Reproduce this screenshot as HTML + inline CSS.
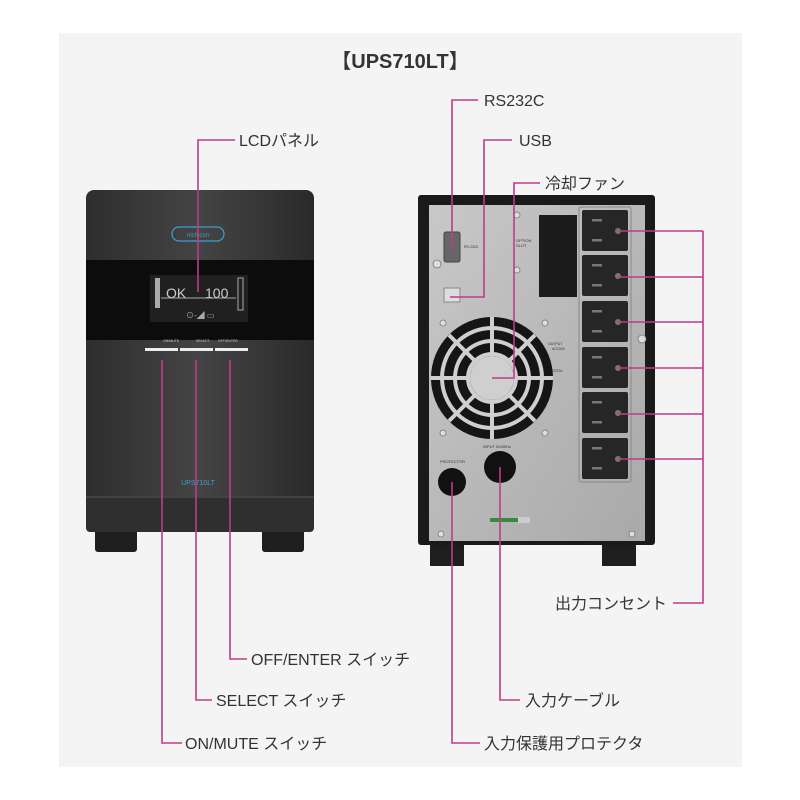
<!DOCTYPE html>
<html><head><meta charset="utf-8"><style>
html,body{margin:0;padding:0;background:#fff;}
svg{display:block;}
text{font-family:"Liberation Sans","Noto Sans CJK JP",sans-serif;fill:#333;}
</style></head><body>
<svg width="800" height="800" viewBox="0 0 800 800" xmlns="http://www.w3.org/2000/svg">
<defs>
<linearGradient id="body" x1="0" x2="1" y1="0" y2="0">
<stop offset="0" stop-color="#2e2e2e"/><stop offset="0.5" stop-color="#444"/><stop offset="1" stop-color="#2a2a2a"/>
</linearGradient>
<linearGradient id="panel" x1="0" x2="1" y1="0" y2="1">
<stop offset="0" stop-color="#c8c8c8"/><stop offset="1" stop-color="#a9a9a9"/>
</linearGradient>
<g id="outlet">
<rect x="0" y="0" width="46" height="41" rx="2" fill="#262626"/>
<rect x="10" y="9" width="10" height="2.5" fill="#777"/>
<rect x="10" y="29" width="10" height="2.5" fill="#777"/>
<circle cx="36" cy="21" r="3" fill="#777"/>
</g>
</defs>
<rect x="59" y="33" width="683" height="734" fill="#f4f4f4"/>
<text x="400" y="68" text-anchor="middle" font-size="20" font-weight="bold" fill="#222">【UPS710LT】</text>

<!-- FRONT UNIT -->
<rect x="95" y="528" width="42" height="24" rx="3" fill="#1e1e1e"/>
<rect x="262" y="528" width="42" height="24" rx="3" fill="#1e1e1e"/>
<rect x="86" y="190" width="228" height="342" rx="8" fill="url(#body)"/>
<rect x="86" y="260" width="228" height="80" fill="#0c0c0c"/>
<rect x="86" y="496" width="228" height="36" rx="4" fill="#2f2f2f"/>
<line x1="86" y1="497" x2="314" y2="497" stroke="#555" stroke-width="1"/>
<rect x="172" y="227" width="52" height="14" rx="7" fill="none" stroke="#3aa0d0" stroke-width="1.2"/>
<text x="198" y="237" text-anchor="middle" font-size="6" style="fill:#3aa0d0">nichicon</text>
<rect x="150" y="275" width="98" height="47" fill="#202020"/>
<text x="166" y="298" font-size="14" style="fill:#ccc">OK</text>
<text x="205" y="298" font-size="14" style="fill:#ccc">100</text>
<rect x="155" y="278" width="5" height="30" fill="#aaa"/>
<rect x="238" y="278" width="5" height="32" fill="none" stroke="#aaa"/>
<line x1="161" y1="298" x2="236" y2="298" stroke="#aaa"/>
<text x="186" y="318" font-size="8" style="fill:#aaa">⊙-◢ ▭</text>
<text x="163" y="342" font-size="3.5" style="fill:#ccc">ON/MUTE</text>
<text x="196" y="342" font-size="3.5" style="fill:#ccc">SELECT</text>
<text x="218" y="342" font-size="3.5" style="fill:#ccc">OFF/ENTER</text>
<rect x="145" y="348" width="33" height="3" fill="#eee"/>
<rect x="180" y="348" width="33" height="3" fill="#eee"/>
<rect x="215" y="348" width="33" height="3" fill="#eee"/>
<text x="198" y="485" text-anchor="middle" font-size="7" style="fill:#3aa0d0">UPS710LT</text>

<!-- BACK UNIT -->
<rect x="430" y="540" width="34" height="26" fill="#1e1e1e"/>
<rect x="602" y="540" width="34" height="26" fill="#1e1e1e"/>
<rect x="418" y="195" width="237" height="350" rx="3" fill="#1a1a1a"/>
<rect x="429" y="205" width="216" height="336" fill="url(#panel)"/>
<rect x="444" y="232" width="16" height="30" rx="2" fill="#666" stroke="#444"/>
<text x="464" y="248" font-size="3.5" style="fill:#333">RS-232C</text>
<rect x="444" y="288" width="16" height="14" fill="#ddd" stroke="#888"/>
<rect x="539" y="215" width="38" height="82" fill="#1c1c1c"/>
<text x="516" y="242" font-size="4" style="fill:#333">OPTION</text>
<text x="516" y="247" font-size="4" style="fill:#333">SLOT</text>
<rect x="579" y="207" width="52" height="275" rx="2" fill="none" stroke="#888" stroke-width="1"/>
<use href="#outlet" x="582" y="210"/>
<use href="#outlet" x="582" y="255"/>
<use href="#outlet" x="582" y="301"/>
<use href="#outlet" x="582" y="347"/>
<use href="#outlet" x="582" y="392"/>
<use href="#outlet" x="582" y="438"/>
<text x="548" y="345" font-size="3.5" style="fill:#333">OUTPUT</text>
<text x="552" y="350" font-size="3.5" style="fill:#333">AC100V</text>
<text x="552" y="372" font-size="3.5" style="fill:#333">TOTAL</text>
<g fill="#ddd" stroke="#777" stroke-width="0.8">
<circle cx="437" cy="264" r="4"/><circle cx="642" cy="339" r="4"/>
<circle cx="517" cy="215" r="3"/><circle cx="517" cy="270" r="3"/>
<circle cx="443" cy="323" r="3"/><circle cx="545" cy="323" r="3"/>
<circle cx="443" cy="433" r="3"/><circle cx="545" cy="433" r="3"/>
<circle cx="441" cy="534" r="3"/><circle cx="632" cy="534" r="3"/>
</g>
<!-- fan -->
<circle cx="492" cy="378" r="61" fill="#151515"/>
<g fill="none" stroke="#cfcfcf" stroke-width="4">
<circle cx="492" cy="378" r="50"/>
<circle cx="492" cy="378" r="37"/>
<circle cx="492" cy="378" r="24"/>
<line x1="492" y1="317" x2="492" y2="354"/><line x1="492" y1="402" x2="492" y2="439"/>
<line x1="431" y1="378" x2="468" y2="378"/><line x1="516" y1="378" x2="553" y2="378"/>
<line x1="449" y1="335" x2="475" y2="361"/><line x1="509" y1="395" x2="535" y2="421"/>
<line x1="535" y1="335" x2="509" y2="361"/><line x1="475" y1="395" x2="449" y2="421"/>
</g>
<circle cx="492" cy="378" r="22" fill="#cfcfcf"/>
<circle cx="452" cy="482" r="14" fill="#111"/>
<circle cx="500" cy="467" r="16" fill="#111"/>
<text x="440" y="463" font-size="4" style="fill:#333">PROTECTOR</text>
<text x="483" y="448" font-size="4" style="fill:#333">INPUT 50/60Hz</text>
<rect x="490" y="518" width="28" height="4" fill="#3a8a3a"/>
<rect x="518" y="517" width="12" height="6" fill="#ccc"/>

<!-- LEADER LINES -->
<g stroke="#c03a8a" stroke-width="1.6" fill="none">
<polyline points="198,292 198,140 235,140"/>
<polyline points="162,360 162,743 182,743"/>
<polyline points="196,360 196,700 212,700"/>
<polyline points="230,360 230,659 247,659"/>
<polyline points="452,250 452,100 478,100"/>
<polyline points="450,297 484,297 484,140 512,140"/>
<polyline points="492,378 514,378 514,183 540,183"/>
<polyline points="618,231 703,231"/><polyline points="618,277 703,277"/>
<polyline points="618,322 703,322"/><polyline points="618,368 703,368"/>
<polyline points="618,414 703,414"/><polyline points="618,459 703,459"/>
<polyline points="703,231 703,603 673,603"/>
<polyline points="452,482 452,743 480,743"/>
<polyline points="500,467 500,700 520,700"/>
</g>

<!-- LABELS -->
<g font-size="16">
<text x="239" y="146">LCDパネル</text>
<text x="185" y="749">ON/MUTE スイッチ</text>
<text x="216" y="706">SELECT スイッチ</text>
<text x="251" y="665">OFF/ENTER スイッチ</text>
<text x="484" y="106">RS232C</text>
<text x="519" y="146">USB</text>
<text x="545" y="189">冷却ファン</text>
<text x="555" y="609">出力コンセント</text>
<text x="525" y="706">入力ケーブル</text>
<text x="484" y="749">入力保護用プロテクタ</text>
</g>
</svg>
</body></html>
